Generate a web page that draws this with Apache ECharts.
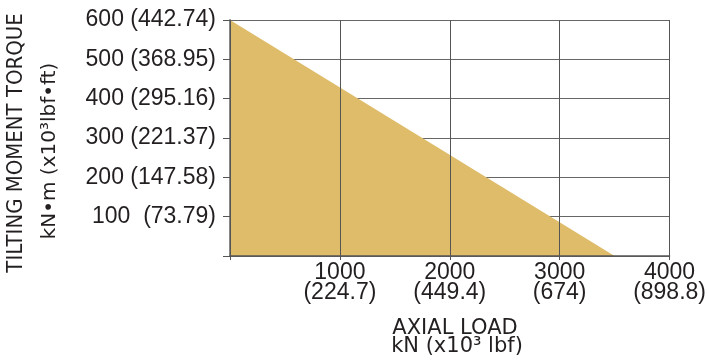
<!DOCTYPE html>
<html>
<head>
<meta charset="utf-8">
<script src="https://cdn.jsdelivr.net/npm/echarts@6/dist/echarts.min.js"></script>
<style>
html,body{margin:0;padding:0;background:#fff;}
#chart{width:709px;height:364px;}
</style>
</head>
<body>
<div id="chart"></div>
<script>
// Data
var xTicks = [0, 1000, 2000, 3000, 4000];
var xTickLabels = ['', '1000\n(224.7)', '2000\n(449.4)', '3000\n(674)', '4000\n(898.8)'];
var yTicks = [0, 100, 200, 300, 400, 500, 600];
var yTickLabels = ['', '100  (73.79)', '200 (147.58)', '300 (221.37)', '400 (295.16)', '500 (368.95)', '600 (442.74)'];
var axialLoad = [0, 3500];
var tiltingMoment = [600, 0];
var yTitle1 = 'TILTING MOMENT TORQUE';
var yTitle2 = 'kN\u2022m (x10\u00B3lbf\u2022ft)';
var xTitle1 = 'AXIAL LOAD';
var xTitle2 = 'kN (x10\u00B3 lbf)';

var textColor = '#231f20';
var chart = echarts.init(document.getElementById('chart'), null, {renderer: 'canvas'});
var seriesData = axialLoad.map(function (x, i) { return [x, tiltingMoment[i]]; });

chart.setOption({
  animation: false,
  grid: {left: 230, right: 37, top: 20, bottom: 108, containLabel: false},
  xAxis: {
    type: 'value', min: 0, max: 4000, interval: 1000, z: 3,
    axisLine: {show: true, lineStyle: {color: '#555', width: 1.5}},
    axisTick: {show: true, length: 4, lineStyle: {color: '#555'}},
    splitLine: {show: true, lineStyle: {color: '#555', width: 1}},
    axisLabel: {
      margin: 7, color: textColor, fontFamily: 'Liberation Sans', fontSize: 23, lineHeight: 20,
      formatter: function (v) { var i = xTicks.indexOf(v); return i >= 0 ? xTickLabels[i] : ''; }
    }
  },
  yAxis: {
    type: 'value', min: 0, max: 600, interval: 100, z: 0,
    axisLine: {show: true, lineStyle: {color: '#888', width: 2}},
    axisTick: {show: true, length: 7, lineStyle: {color: '#555'}},
    splitLine: {show: true, lineStyle: {color: '#666', width: 1}},
    axisLabel: {
      margin: 14, color: textColor, fontFamily: 'Liberation Sans', fontSize: 23,
      formatter: function (v) { var i = yTicks.indexOf(v); return i >= 0 ? yTickLabels[i] : ''; }
    }
  },
  series: [{
    type: 'line', data: seriesData, symbol: 'none', z: 2,
    lineStyle: {width: 0},
    areaStyle: {color: '#dfbc6a', opacity: 1}
  }],
  graphic: [
    {type: 'text', x: 17, y: 143, rotation: Math.PI / 2, scaleX: 0.94,
     style: {text: yTitle1, fill: textColor, font: '21px "DejaVu Sans"', textAlign: 'center', textVerticalAlign: 'middle'}},
    {type: 'text', x: 50, y: 151, rotation: Math.PI / 2,
     style: {text: yTitle2, fill: textColor, font: '20px "DejaVu Sans"', textAlign: 'center', textVerticalAlign: 'middle'}},
    {type: 'text', x: 455, y: 329,
     style: {text: xTitle1, fill: textColor, font: '21px "DejaVu Sans"', textAlign: 'center', textVerticalAlign: 'middle'}},
    {type: 'text', x: 457, y: 347,
     style: {text: xTitle2, fill: textColor, font: '21px "DejaVu Sans"', textAlign: 'center', textVerticalAlign: 'middle'}}
  ]
});
</script>
</body>
</html>
